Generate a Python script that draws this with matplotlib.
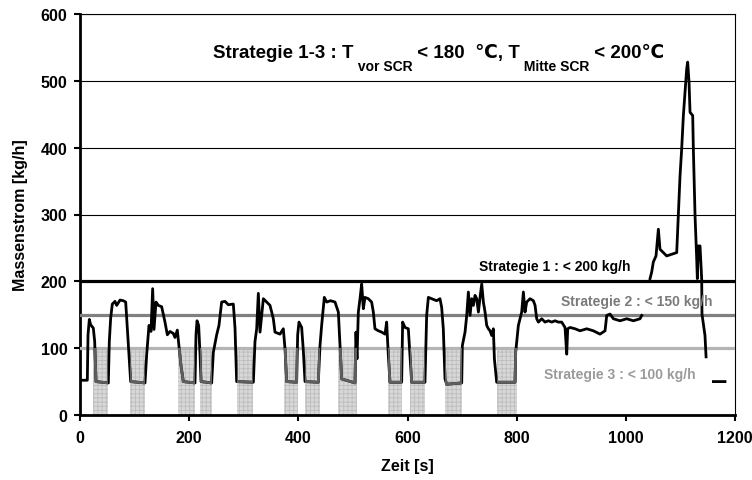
import numpy as np
import matplotlib
matplotlib.use("Agg")
import matplotlib.pyplot as plt
from matplotlib.patches import Rectangle

# ---------------- data ----------------
time_s = [0, 13.4, 14.7, 17.1, 19.5, 24.4, 26.9, 29.3, 51.9, 53.7, 56.2, 59.2, 64.1, 67.2, 73.3,
          79.4, 83.7, 86.7, 89.8, 92.8, 119.1, 122.1, 126.4, 130.1, 133.1, 135.6, 139.2, 143.5,
          149.6, 155.7, 160.0, 164.9, 171.0, 174.0, 178.3, 182.0, 185.0, 189.3, 210.7, 212.5,
          214.4, 217.4, 219.9, 221.7, 241.2, 244.3, 250.4, 254.6, 259.5, 265.6, 271.7, 280.9,
          284.0, 287.0, 317.6, 320.6, 323.7, 326.7, 329.8, 335.9, 342.0, 348.1, 354.2, 357.2,
          366.4, 372.5, 375.6, 378.6, 396.9, 398.8, 401.2, 406.1, 409.2, 412.2, 436.6, 439.7,
          442.7, 447.6, 451.9, 459.0, 467.2, 473.3, 476.3, 479.4, 503.8, 505.6, 507.5, 509.9,
          513.0, 516.0, 519.1, 522.1, 528.2, 534.3, 537.4, 540.4, 546.6, 552.7, 558.8, 561.8,
          564.9, 567.9, 589.3, 591.1, 595.4, 601.5, 604.6, 607.6, 632.0, 635.1, 638.2, 644.3,
          653.4, 659.5, 662.6, 665.6, 668.7, 671.7, 699.3, 700.5, 705.4, 708.5, 711.5, 714.6,
          717.6, 720.7, 723.7, 726.8, 729.9, 732.9, 736.0, 739.0, 742.1, 745.1, 748.2, 751.2,
          754.3, 757.3, 759.2, 761.6, 763.4, 797.0, 798.2, 803.1, 809.2, 812.3, 815.3, 818.4,
          824.5, 830.6, 833.7, 836.7, 839.8, 845.9, 852.0, 858.1, 864.2, 870.3, 876.4, 882.5,
          888.6, 891.7, 893.5, 897.8, 907.0, 916.1, 928.3, 940.5, 952.7, 961.9, 965.0, 971.1,
          977.2, 989.4, 1001.6, 1013.8, 1026.0, 1029.1, 1036.0, 1044.3, 1047.4, 1050.4, 1055.3,
          1059.6, 1062.6, 1074.8, 1093.2, 1096.2, 1099.3, 1102.3, 1105.4, 1108.4, 1111.5,
          1113.3, 1115.8, 1117.6, 1122.5, 1123.7, 1126.8, 1129.8, 1131.0, 1132.9, 1135.9,
          1139.0, 1139.5, 1145.0, 1147.0, 1153.0, 1160.4, 1181.7]

mass_flow = [52, 52, 120, 143, 135, 130, 110, 50, 48, 110, 145, 166, 170, 164, 172,
             171, 169, 130, 90, 50, 48, 90, 134, 125, 189, 128, 169, 164,
             162, 139, 120, 125, 122, 116, 127, 97, 74, 50, 48, 120,
             141, 134, 90, 50, 48, 94, 120, 134, 169, 170, 165, 166,
             130, 50, 49, 110, 129, 182, 124, 174, 169, 164, 144, 124,
             121, 129, 99, 50, 49, 120, 139, 131, 96, 50, 49, 104,
             134, 176, 169, 171, 169, 154, 104, 54, 48, 124, 84, 154,
             174, 196, 159, 176, 174, 169, 154, 129, 126, 124, 121, 139,
             89, 49, 49, 139, 131, 129, 89, 49, 49, 149, 176, 174,
             171, 174, 161, 129, 54, 46, 48, 104, 124, 149, 184, 149,
             174, 164, 179, 174, 154, 176, 196, 169, 154, 134, 129, 126,
             119, 129, 84, 64, 49, 49, 94, 134, 154, 184, 154, 169,
             174, 171, 164, 144, 139, 144, 139, 141, 139, 141, 139, 139,
             131, 91, 129, 131, 129, 126, 129, 126, 121, 126, 149, 151,
             144, 141, 144, 141, 144, 149, np.nan, 204, 214, 229, 238,
             278, 248, 238, 243, 298, 358, 398, 448, 483, 518,
             528, 498, 453, 448, 398, 298, 234, 204, 253, 253,
             203, 151, 119, 87, np.nan, 50, 50]

# measuring intervals (shaded, below 100 kg/h)
shade_start = [24.4, 91.6, 180.2, 219.9, 287.0, 374.3, 412.2, 473.3, 564.9, 604.6, 668.7, 763.4]
shade_end = [52.0, 119.1, 210.7, 242.4, 317.6, 400.0, 439.7, 506.9, 589.3, 632.0, 699.3, 800.0]
shade_top = 100

limit_values = [200, 150, 100]
limit_colors = ["#000000", "#808080", "#b4b4b4"]
limit_labels = ["Strategie 1 : < 200 kg/h", "Strategie 2 : < 150 kg/h", "Strategie 3 : < 100 kg/h"]
label_text_colors = ["#000000", "#7a7a7a", "#9a9a9a"]
label_x = [870, 1020, 989]
label_y = [217, 165, 55]

x_ticks = [0, 200, 400, 600, 800, 1000, 1200]
y_ticks = [0, 100, 200, 300, 400, 500, 600]

FONT = ["Liberation Sans", "DejaVu Sans"]
plt.rcParams["font.family"] = FONT
plt.rcParams["hatch.linewidth"] = 0.6

# ---------------- figure ----------------
fig = plt.figure(figsize=(7.52, 4.81), dpi=100)
ax = fig.add_axes([80 / 752, 1 - 416 / 481, 655 / 752, 401 / 481])
ax.set_xlim(x_ticks[0], x_ticks[-1])
ax.set_ylim(y_ticks[0], y_ticks[-1])

ax.set_xticks(x_ticks)
ax.set_yticks(y_ticks)
ax.yaxis.grid(True, color="black", lw=0.8)
ax.set_axisbelow(True)

# shaded intervals
patches = []
for s, e in zip(shade_start, shade_end):
    r = Rectangle((s, 0), e - s, shade_top, facecolor="#d8d8d8", edgecolor="#bdbdbd",
                  hatch="++++", lw=0, zorder=1.5)
    ax.add_patch(r)
    patches.append(r)

# limit lines
for v, c in zip(limit_values, limit_colors):
    ax.axhline(v, color=c, lw=2.3, zorder=3)

# curve
ax.plot(time_s, mass_flow, color="black", lw=2.0, zorder=4, solid_joinstyle="round")
for r in patches:
    ln, = ax.plot(time_s, mass_flow, color="#5e5e5e", lw=2.0, zorder=5)
    ln.set_clip_path(r)

# labels of the strategies
for txt, x, y, c in zip(limit_labels, label_x, label_y, label_text_colors):
    ax.text(x, y, txt, ha="center", va="baseline", fontsize=10, fontweight="bold",
            color=c, zorder=6)

# title with subscripts
big, small = 13.5, 10
t1 = ax.text(243.7, 530, "Strategie 1-3 : T", fontsize=big, fontweight="bold",
             ha="left", va="bottom", zorder=6)
pieces = [(" vor SCR", small, -8.5), (" < 180  \u2103, T", big, 0),
          (" Mitte SCR", small, -8.5), (" < 200\u2103", big, 0)]
prev = t1
for txt, fs, dy in pieces:
    a = ax.annotate(txt, xy=(1, 0), xycoords=(prev, t1), xytext=(0, dy),
                    textcoords="offset points", fontsize=fs, fontweight="bold",
                    ha="left", va="bottom", zorder=6)
    prev = a

# axes styling
for side in ["left", "bottom"]:
    ax.spines[side].set_linewidth(2.0)
for side in ["top", "right"]:
    ax.spines[side].set_linewidth(0.8)
ax.tick_params(axis="both", direction="out", length=4, width=1.5, labelsize=11.5)
ax.tick_params(axis="y", pad=5)
ax.tick_params(axis="x", pad=6.5)
for lab in ax.get_xticklabels() + ax.get_yticklabels():
    lab.set_fontweight("bold")

ax.set_xlabel("Zeit [s]", fontsize=11.5, fontweight="bold", labelpad=10)
ax.set_ylabel("Massenstrom [kg/h]", fontsize=11.5, fontweight="bold", labelpad=9)

fig.savefig("out.png", dpi=100)
